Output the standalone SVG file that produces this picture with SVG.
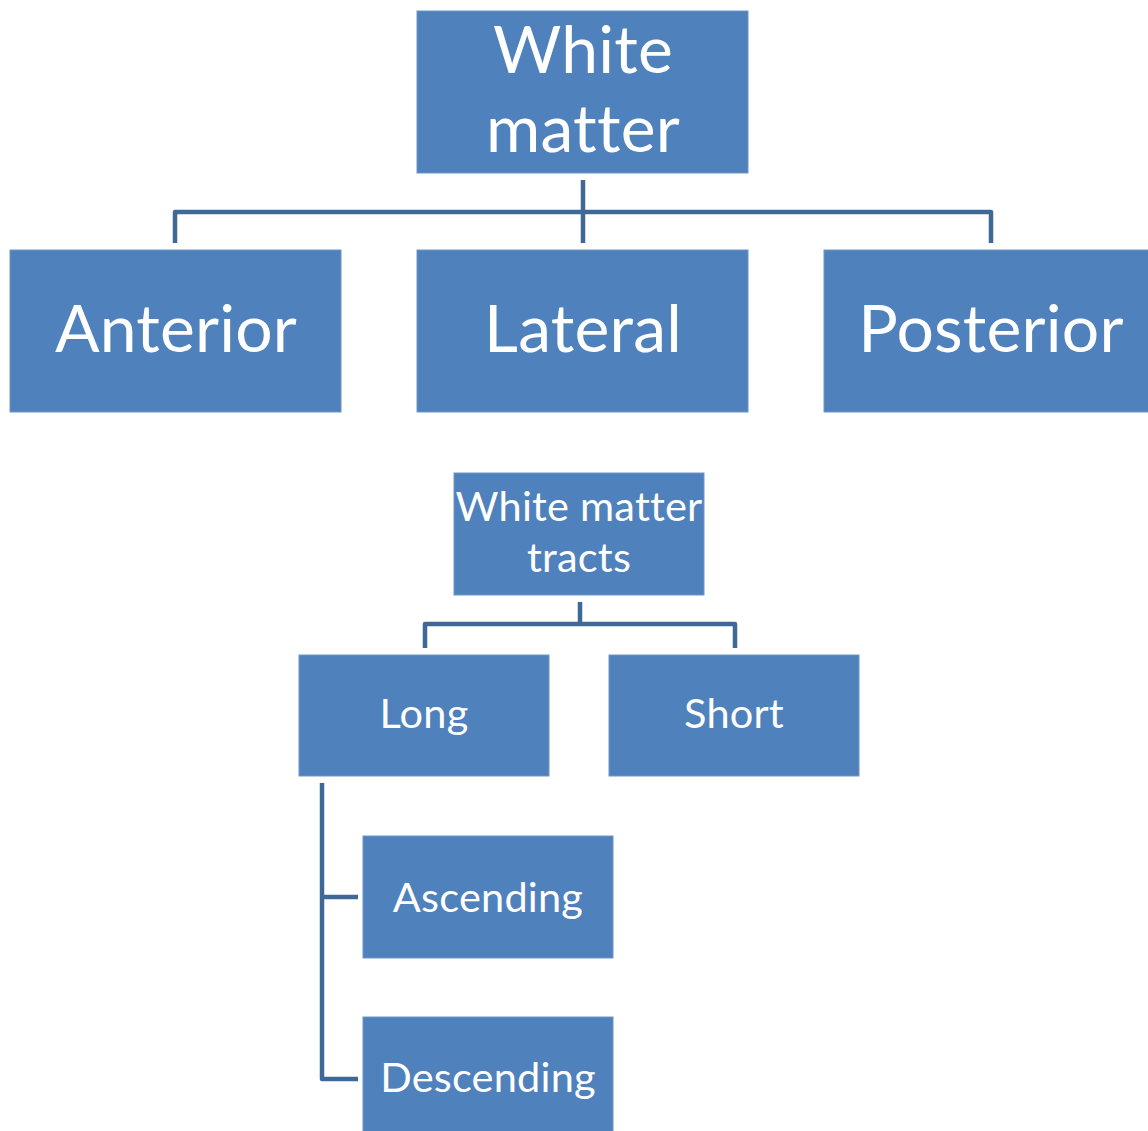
<svg xmlns="http://www.w3.org/2000/svg" width="1148" height="1131" viewBox="0 0 1148 1131">
<style>
.box{fill:#4F81BD;stroke:#6E95C8;stroke-width:1}
text{font-family:Lato,"Open Sans",sans-serif;fill:#fff;text-anchor:middle;font-variant-ligatures:none;font-feature-settings:"liga" 0,"clig" 0;letter-spacing:0.2px}
.big{font-size:66px}
.sm{font-size:41.5px}
.c{fill:none;stroke:#3F6797;stroke-width:4.5;stroke-linejoin:round}
</style>
<rect width="1148" height="1131" fill="#fff"/>
<g id="connectors">
<path class="c" d="M583,180V243"/>
<path class="c" d="M175,243V212H991V243"/>
<path class="c" d="M580,602V624"/>
<path class="c" d="M425,648V624H735V648"/>
<path class="c" d="M322,783V1079H358"/>
<path class="c" d="M322,897H358"/>
</g>
<g id="white-matter"><rect class="box" x="417" y="11" width="331" height="162"/><text class="big" x="583" y="73">White</text><text class="big" x="583" y="152">matter</text></g>
<g id="anterior"><rect class="box" x="10" y="250" width="331" height="162"/><text class="big" x="176" y="352">Anterior</text></g>
<g id="lateral"><rect class="box" x="417" y="250" width="331" height="162"/><text class="big" x="583" y="352">Lateral</text></g>
<g id="posterior"><rect class="box" x="824" y="250" width="331" height="162"/><text class="big" x="991" y="352">Posterior</text></g>
<g id="tracts"><rect class="box" x="454" y="473" width="250" height="122"/><text class="sm" x="579" y="521">White matter</text><text class="sm" x="579" y="572">tracts</text></g>
<g id="long"><rect class="box" x="299" y="655" width="250" height="121"/><text class="sm" x="424" y="728">Long</text></g>
<g id="short"><rect class="box" x="609" y="655" width="250" height="121"/><text class="sm" x="734" y="728">Short</text></g>
<g id="ascending"><rect class="box" x="363" y="836" width="250" height="122"/><text class="sm" x="488" y="912">Ascending</text></g>
<g id="descending"><rect class="box" x="363" y="1017" width="250" height="122"/><text class="sm" x="488" y="1092">Descending</text></g>
</svg>
